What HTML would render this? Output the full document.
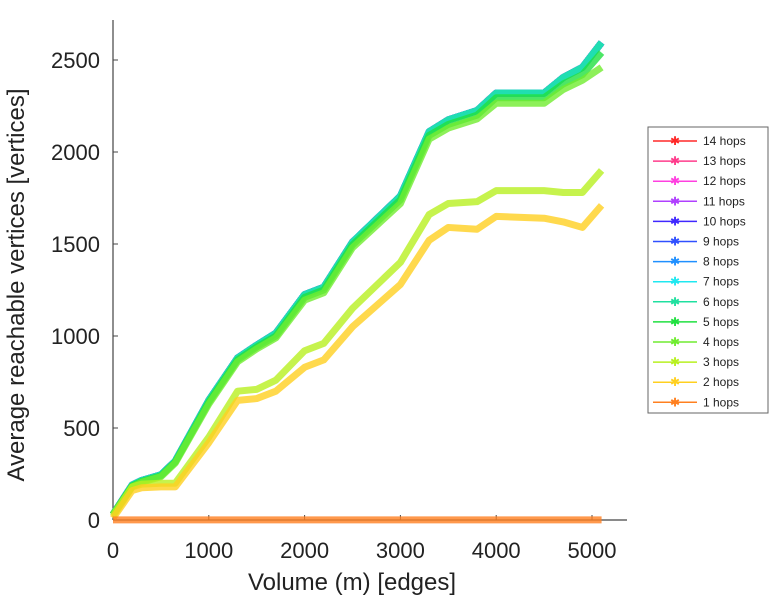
<!DOCTYPE html>
<html><head><meta charset="utf-8"><style>
body{margin:0;background:#fff;}
svg{display:block;font-family:"Liberation Sans",sans-serif;}
</style></head><body>
<svg id="chart" width="770" height="600"></svg>
<script>
const hopLabels=["14 hops","13 hops","12 hops","11 hops","10 hops","9 hops","8 hops","7 hops","6 hops","5 hops","4 hops","3 hops","2 hops","1 hops"];
const hopColors=["#ff2828","#ff3c8c","#ff40e0","#b040ff","#4028ff","#3050ff","#2090ff","#20e8f0","#20e0a0","#20e040","#70ec30","#b8f020","#ffd020","#ff8020"];
const xTicks=[0,1000,2000,3000,4000,5000];
const yTicks=[0,500,1000,1500,2000,2500];
const xs=[0,200,300,500,650,1000,1300,1500,1700,2000,2200,2500,3000,3300,3500,3800,4000,4500,4700,4900,5100];
const topVals=[30,190,215,245,320,650,880,950,1015,1225,1265,1510,1760,2110,2175,2225,2320,2320,2405,2460,2595];
const hops5Vals=[30,185,210,240,315,640,870,940,1000,1210,1250,1495,1740,2090,2150,2200,2295,2295,2370,2420,2540];
const hops4Vals=[30,180,205,235,310,630,860,930,990,1195,1235,1480,1720,2070,2130,2180,2265,2265,2340,2390,2460];
const hops3Vals=[20,180,195,200,200,450,700,710,760,920,960,1150,1400,1660,1720,1730,1790,1790,1780,1780,1900];
const hops2Vals=[10,160,175,180,180,420,650,660,700,830,870,1050,1280,1520,1590,1580,1650,1640,1620,1590,1710];
const hops1Vals=[1,1,1,1,1,1,1,1,1,1,1,1,1,1,1,1,1,1,1,1,1];
const series=[topVals,topVals,topVals,topVals,topVals,topVals,topVals,topVals,topVals,hops5Vals,hops4Vals,hops3Vals,hops2Vals,hops1Vals];
const NS="http://www.w3.org/2000/svg";
const svg=document.getElementById('chart');
const X0=113,Y0=520;
function sx(v){return X0+v*0.0958;}
function sy(v){return Y0-v*0.184;}
function mk(t,a,p){const e=document.createElementNS(NS,t);for(const k in a)e.setAttribute(k,a[k]);(p||svg).appendChild(e);return e;}
let ax=mk('line',{x1:X0,y1:20,x2:X0,y2:Y0,stroke:'#444','stroke-width':1.2});


ax=mk('line',{x1:X0,y1:Y0,x2:627,y2:Y0,stroke:'#444','stroke-width':1.2});


xTicks.forEach(t=>{
 mk('line',{x1:sx(t),y1:Y0,x2:sx(t),y2:Y0-5,stroke:'#444'});
 const tx=mk('text',{x:sx(t),y:558,'text-anchor':'middle','font-size':22,fill:'#222'});
 tx.textContent=t;
 
 
});
yTicks.forEach(t=>{
 mk('line',{x1:X0,y1:sy(t),x2:X0+5,y2:sy(t),stroke:'#444'});
 const tx=mk('text',{x:100,y:sy(t)+8,'text-anchor':'end','font-size':22,fill:'#222'});
 tx.textContent=t;
 
 
});
let lab=mk('text',{x:352,y:590,'text-anchor':'middle','font-size':24,fill:'#222'});
lab.textContent='Volume (m) [edges]';


lab=mk('text',{x:0,y:0,'text-anchor':'middle','font-size':24,fill:'#222',transform:'translate(24,285) rotate(-90)'});
lab.textContent='Average reachable vertices [vertices]';


for(let i=0;i<series.length;i++){
 const vals=series[i];
 const g=mk('g',{});
 
 
 const pts=xs.map((x,j)=>sx(x)+','+sy(vals[j])).join(' ');
 mk('polyline',{points:pts,fill:'none',stroke:hopColors[i],'stroke-width':7,'stroke-linejoin':'round','stroke-opacity':0.8},g);
}
const lg=mk('g',{});


mk('rect',{x:648,y:127,width:120,height:286,fill:'#fff',stroke:'#666'},lg);
hopLabels.forEach((l,i)=>{
 const y=141+i*20.1;
 const e=mk('g',{},lg);
 
 
 mk('line',{x1:653,y1:y,x2:697,y2:y,stroke:hopColors[i],'stroke-width':1.5},e);
 const s=mk('text',{x:675,y:y+4,'text-anchor':'middle','font-size':12,fill:hopColors[i]},e);
 s.textContent='✱';
 const t=mk('text',{x:703,y:y+4,'font-size':12,fill:'#222'},e);
 t.textContent=l;
});
</script>
</body></html>
